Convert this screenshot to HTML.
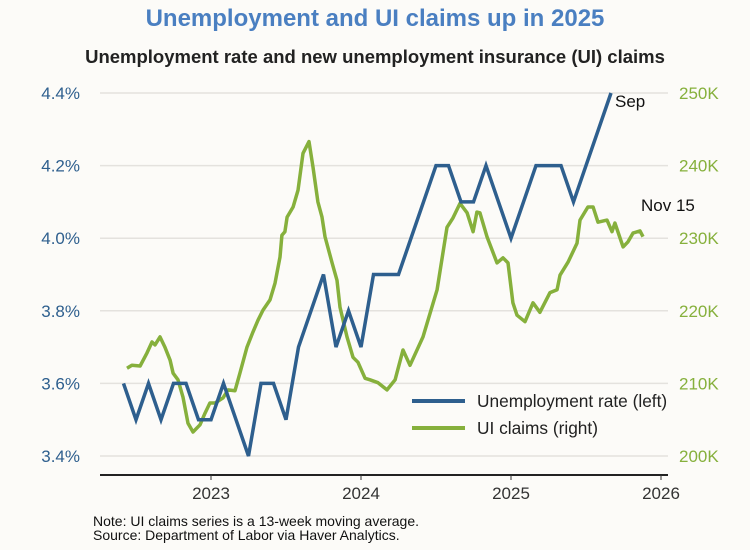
<!DOCTYPE html>
<html><head><meta charset="utf-8"><style>
body{margin:0;background:#fcfbf8;}
svg{display:block;font-family:"Liberation Sans",sans-serif;}
</style></head><body>
<svg id="c" width="750" height="550">
<rect width="750" height="550" fill="#fcfbf8"/>
<text x="375" y="26" text-anchor="middle" font-size="24" font-weight="bold" fill="#4a7fc1">Unemployment and UI claims up in 2025</text>
<text x="375" y="63" text-anchor="middle" font-size="18.5" font-weight="bold" fill="#222">Unemployment rate and new unemployment insurance (UI) claims</text>
<g id="grid"></g><g id="axes"></g><g id="series"></g>
<g>
<line x1="412" y1="401" x2="465" y2="401" stroke="#2e5f8e" stroke-width="4"/>
<text x="477" y="407" font-size="17.3" fill="#222">Unemployment rate (left)</text>
<line x1="412" y1="428" x2="465" y2="428" stroke="#86b03c" stroke-width="4"/>
<text x="477" y="434" font-size="17.3" fill="#222">UI claims (right)</text>
</g>
<text x="615" y="107" font-size="17" fill="#111">Sep</text>
<text x="641" y="211" font-size="17" fill="#111">Nov 15</text>
<text x="93" y="526" font-size="14" fill="#111">Note: UI claims series is a 13-week moving average.</text>
<text x="93" y="540" font-size="14" fill="#111">Source: Department of Labor via Haver Analytics.</text>
</svg>
<script>
const leftTicks=[3.4,3.6,3.8,4.0,4.2,4.4];
const rightTicks=[200,210,220,230,240,250];
const yearTicks=[2023,2024,2025,2026];
const urateStart=2022.4167;
const urate=[3.6,3.5,3.6,3.5,3.6,3.6,3.5,3.5,3.6,3.5,3.4,3.6,3.6,3.5,3.7,3.8,3.9,3.7,3.8,3.7,3.9,3.9,3.9,4.0,4.1,4.2,4.2,4.1,4.1,4.2,4.1,4.0,4.1,4.2,4.2,4.2,4.1,4.2,4.3,4.4];
const claimDates=[2022.44,2022.473,2022.527,2022.573,2022.607,2022.627,2022.66,2022.693,2022.727,2022.747,2022.78,2022.813,2022.847,2022.88,2022.927,2022.96,2022.993,2023.027,2023.08,2023.113,2023.16,2023.193,2023.24,2023.28,2023.313,2023.347,2023.393,2023.427,2023.46,2023.473,2023.493,2023.507,2023.547,2023.58,2023.613,2023.653,2023.68,2023.713,2023.74,2023.76,2023.807,2023.84,2023.86,2023.907,2023.947,2023.98,2024.027,2024.06,2024.113,2024.173,2024.227,2024.28,2024.327,2024.413,2024.507,2024.573,2024.613,2024.66,2024.707,2024.747,2024.773,2024.793,2024.84,2024.907,2024.947,2024.98,2025.013,2025.04,2025.093,2025.147,2025.193,2025.26,2025.307,2025.327,2025.38,2025.44,2025.46,2025.513,2025.547,2025.58,2025.64,2025.673,2025.693,2025.747,2025.78,2025.813,2025.86,2025.88];
const claims=[212.1,212.5,212.4,214.2,215.7,215.3,216.4,215.0,213.2,211.4,210.5,208.1,204.5,203.3,204.3,205.9,207.3,207.3,208.0,209.1,209.0,211.4,215.0,217.1,218.7,220.1,221.5,223.8,227.4,230.4,230.9,232.9,234.3,236.6,241.7,243.3,239.8,235.0,232.9,230.2,226.6,224.2,220.5,216.4,213.6,212.9,210.7,210.5,210.1,209.1,210.5,214.6,212.5,216.4,222.9,231.5,232.8,234.8,233.5,230.9,233.6,233.5,230.2,226.6,227.3,226.6,221.1,219.4,218.5,221.1,219.8,222.5,222.9,224.9,226.7,229.3,232.5,234.3,234.3,232.2,232.5,230.9,232.1,228.8,229.5,230.7,231.0,230.2];
const NS="http://www.w3.org/2000/svg";
const X=t=>211+(t-2023)*150;
const YL=v=>93+(4.4-v)/1.0*363;
const YR=v=>93+(250-v)/50*363;
function mk(tag,attrs,parent){const e=document.createElementNS(NS,tag);for(const k in attrs)e.setAttribute(k,attrs[k]);parent.appendChild(e);return e;}
const grid=document.getElementById('grid'),axes=document.getElementById('axes'),ser=document.getElementById('series');
leftTicks.forEach(v=>{
 const l=mk('line',{x1:100,x2:668,y1:YL(v),y2:YL(v),stroke:'#e4e2de','stroke-width':1.5},grid);
 
 
 const t=mk('text',{x:80,y:YL(v)+6,'text-anchor':'end','font-size':17,fill:'#2e5f8e'},axes);
 t.textContent=v.toFixed(1)+'%';
 
 
});
rightTicks.forEach(v=>{
 const t=mk('text',{x:679,y:YR(v)+6,'font-size':17,fill:'#86b03c'},axes);
 t.textContent=v+'K';
 
 
});
const ax=mk('line',{x1:100,x2:668,y1:475,y2:475,stroke:'#222','stroke-width':2},axes);


yearTicks.forEach(y=>{
 mk('line',{x1:X(y),x2:X(y),y1:475,y2:480,stroke:'#333'},axes);
 const t=mk('text',{x:X(y),y:499,'text-anchor':'middle','font-size':17,fill:'#333'},axes);
 t.textContent=y;
 
 
});
const cp=mk('path',{d:claims.map((v,i)=>(i?'L':'M')+X(claimDates[i]).toFixed(1)+','+YR(v).toFixed(1)).join(''),fill:'none',stroke:'#86b03c','stroke-width':3.5,'stroke-linejoin':'round'},ser);


const up=mk('path',{d:urate.map((v,i)=>(i?'L':'M')+X(urateStart+i/12).toFixed(1)+','+YL(v).toFixed(1)).join(''),fill:'none',stroke:'#2e5f8e','stroke-width':3.5,'stroke-linejoin':'miter'},ser);


</script>
</body></html>
